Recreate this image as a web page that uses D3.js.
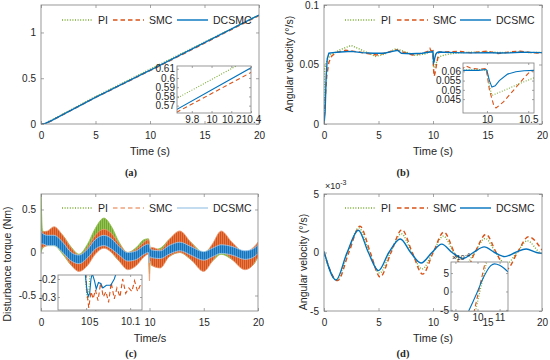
<!DOCTYPE html>
<html>
<head>
<meta charset="utf-8">
<script src="https://cdn.jsdelivr.net/npm/d3@7"></script>
<style>
body { margin: 0; background: #fff; }
svg text { font-family: "Liberation Sans", Arial, sans-serif; fill: #262626; }
svg text.caption { font-family: "Liberation Serif", "Times New Roman", serif; font-weight: bold; }
.frame { fill: none; stroke: #7f7f7f; stroke-width: 0.8; }
.tick line { stroke: #7f7f7f; stroke-width: 0.7; }
</style>
</head>
<body>
<svg class="main" width="550" height="360"></svg>
<script>
var series = ["PI", "SMC", "DCSMC"];
var colors = { PI: "#77AC30", SMC: "#D95319", DCSMC: "#0072BD" };
var dashes = { PI: "1,1.6", SMC: "4.5,3", DCSMC: null };

// (a) angle vs time
var tA_pi = [0, 0.3, 1, 5, 9.65, 10.25, 15, 20];
var vA_pi = [0, 0.003, 0.045, 0.3, 0.578, 0.613, 0.895, 1.19];
var tA_smc = [0, 0.3, 1, 5, 9.65, 10.4, 15, 20];
var vA_smc = [0, 0, 0.038, 0.29, 0.563, 0.606, 0.883, 1.185];
var tA_dc = [0, 0.3, 1, 5, 9.65, 10.4, 15, 20];
var vA_dc = [0, 0, 0.04, 0.29, 0.566, 0.611, 0.89, 1.19];

// (b) angular velocity
var tB_pi = [0, 0.05, 0.15, 0.3, 0.6, 1, 1.5, 2.5, 3.5, 4.7, 5.5, 6.6, 7.5, 8.4, 9.3, 9.71, 9.9, 10.0, 10.03, 10.06, 10.25, 10.4, 10.57, 11, 11.5, 12.5, 13.5, 15, 16.5, 18, 19, 20];
var vB_pi = [0, 0.046, 0.05, 0.054, 0.058, 0.06, 0.0625, 0.066, 0.062, 0.0568, 0.0585, 0.0632, 0.0605, 0.0575, 0.059, 0.0607, 0.061, 0.0605, 0.052, 0.047, 0.0505, 0.0535, 0.0565, 0.0578, 0.0588, 0.06, 0.0603, 0.0605, 0.06, 0.0605, 0.06, 0.0602];
var tB_smc = [0, 0.1, 0.25, 0.45, 0.7, 1.1, 2, 3.2, 4.8, 5.8, 6.6, 7.2, 8.1, 9.0, 9.71, 9.74, 9.8, 9.9, 9.99, 10.03, 10.08, 10.11, 10.2, 10.34, 10.45, 10.52, 10.57, 10.8, 11.5, 12.5, 13.5, 15, 16, 17, 18, 19, 20];
var vB_smc = [0, 0.02, 0.04, 0.052, 0.057, 0.06, 0.062, 0.0605, 0.058, 0.06, 0.0625, 0.0605, 0.058, 0.0595, 0.0615, 0.063, 0.0618, 0.0612, 0.0615, 0.05, 0.042, 0.0402, 0.0435, 0.0507, 0.0565, 0.0598, 0.0605, 0.0605, 0.0608, 0.061, 0.0598, 0.0612, 0.0592, 0.0605, 0.0612, 0.06, 0.0594];
var tB_dc = [0, 0.1, 0.2, 0.3, 0.45, 0.8, 1.5, 2.5, 3.5, 4.5, 5.5, 6.3, 6.75, 7.1, 8, 9, 9.71, 9.9, 9.99, 10.0, 10.03, 10.06, 10.1, 10.15, 10.25, 10.35, 10.45, 10.57, 11, 12, 13, 14, 15, 16, 17, 18, 19, 20];
var vB_dc = [0, 0.01, 0.04, 0.055, 0.0595, 0.06, 0.0605, 0.061, 0.06, 0.0595, 0.0595, 0.061, 0.062, 0.0595, 0.059, 0.0595, 0.0605, 0.0605, 0.061, 0.0605, 0.055, 0.0515, 0.0522, 0.055, 0.0585, 0.0598, 0.0603, 0.0605, 0.0603, 0.06, 0.0598, 0.0598, 0.06, 0.0597, 0.0598, 0.0603, 0.0602, 0.06];

// (c) disturbance torque, noise band edges
var tC = [0, 0.15, 0.6, 1.2, 2, 2.8, 3.5, 4.3, 5, 5.8, 6.5, 7.2, 8, 8.8, 9.5, 9.9, 10, 10.05, 10.2, 11, 11.8, 12.8, 13.8, 15, 15.8, 16.6, 17.6, 18.8, 19.5, 20];
var cPI_lo = [0.0, 0.05, 0.08, 0.08, -0.02, -0.15, -0.2, -0.1, 0.0, 0.08, 0.0, -0.1, -0.18, -0.12, -0.02, 0.0, -0.25, -0.1, -0.15, -0.15, -0.05, 0.0, -0.08, -0.18, -0.1, -0.02, -0.08, -0.18, -0.15, -0.05];
var cPI_hi = [0.68, 0.25, 0.24, 0.27, 0.2, 0.06, -0.02, 0.1, 0.28, 0.4, 0.3, 0.12, 0.0, 0.06, 0.15, 0.16, 0.1, 0.05, 0.03, 0.05, 0.15, 0.22, 0.12, 0.0, 0.08, 0.15, 0.1, 0.0, 0.02, 0.1];
var cSMC_lo = [0.05, 0.06, 0.08, 0.1, 0.0, -0.15, -0.22, -0.15, -0.02, 0.05, 0.0, -0.1, -0.2, -0.15, -0.05, -0.02, -0.33, -0.1, -0.15, -0.18, -0.05, 0.0, -0.08, -0.22, -0.1, 0.02, -0.08, -0.2, -0.15, -0.05];
var cSMC_hi = [0.22, 0.24, 0.25, 0.3, 0.2, 0.05, -0.03, 0.06, 0.2, 0.27, 0.22, 0.1, 0.0, 0.04, 0.12, 0.15, 0.1, 0.05, 0.06, 0.03, 0.15, 0.25, 0.12, -0.02, 0.1, 0.25, 0.12, 0.0, 0.05, 0.12];
var cDC_lo = [0.1, 0.1, 0.08, 0.08, 0.0, -0.1, -0.13, -0.06, 0.04, 0.08, 0.04, -0.03, -0.1, -0.08, -0.02, 0.0, -0.12, -0.05, -0.06, -0.07, -0.02, 0.02, -0.03, -0.09, -0.05, -0.01, -0.03, -0.08, -0.06, -0.01];
var cDC_hi = [0.25, 0.22, 0.2, 0.2, 0.12, 0.0, -0.03, 0.04, 0.15, 0.2, 0.16, 0.07, 0.0, 0.02, 0.08, 0.1, 0.08, 0.05, 0.03, 0.02, 0.08, 0.12, 0.07, 0.01, 0.05, 0.09, 0.07, 0.02, 0.04, 0.09];
// (c) zoom around t = 10
var icPI_t = [9.998, 10.0, 10.002, 10.004, 10.006, 10.008, 10.009];
var icPI_v = [-0.17, -0.25, -0.3, -0.315, -0.27, -0.2, -0.17];
var icSMC_t = [9.999, 10.003, 10.006, 10.011, 10.016, 10.021, 10.027, 10.033, 10.039, 10.045, 10.051, 10.057, 10.064, 10.07, 10.077, 10.083, 10.09, 10.097, 10.104, 10.11, 10.117, 10.122, 10.127];
var icSMC_v = [-0.17, -0.3, -0.36, -0.27, -0.31, -0.26, -0.32, -0.22, -0.3, -0.27, -0.33, -0.22, -0.31, -0.25, -0.3, -0.2, -0.28, -0.25, -0.27, -0.21, -0.27, -0.24, -0.22];
var icDC_t = [9.998, 10.002, 10.005, 10.008, 10.011, 10.014, 10.019, 10.023, 10.028, 10.033, 10.038, 10.046, 10.056, 10.064, 10.068];
var icDC_v = [-0.17, -0.27, -0.295, -0.28, -0.2, -0.17, -0.21, -0.255, -0.22, -0.225, -0.25, -0.235, -0.235, -0.2, -0.17];

// (d) angular velocity, x1e-3
var tD_pi = [0, 1.15, 2.17, 3.2, 4.15, 5.1, 6.1, 7.1, 8.05, 9.0, 9.98, 10.95, 11.9, 12.85, 13.8, 14.8, 15.75, 16.7, 17.7, 18.65, 19.8, 20];
var vD_pi = [0, -2.35, 0, 2.1, 0, -1.75, 0, 1.6, 0, -1.4, 0, 1.4, 0, -1.2, 0, 1.2, 0, -1.0, 0, 1.0, 0, -0.1];
var tD_smc = [0, 1.25, 2.28, 3.3, 4.25, 5.15, 6.15, 7.15, 8.1, 9.05, 10.02, 11.0, 11.95, 12.9, 13.85, 14.85, 15.8, 16.75, 17.75, 18.75, 20];
var vD_smc = [0, -2.4, 0, 2.25, 0, -2.1, 0, 1.95, 0, -1.85, 0, 1.75, 0, -1.65, 0, 1.55, 0, -1.45, 0, 1.35, 0.2];
var tD_dc = [0, 1.1, 2.12, 3.15, 4.07, 5.0, 5.95, 7.0, 7.95, 8.9, 9.9, 10.8, 11.75, 12.75, 13.7, 14.7, 15.65, 16.6, 17.55, 18.55, 19.5, 20];
var vD_dc = [0.1, -2.35, 0, 1.9, 0, -1.55, 0, 1.15, 0, -0.9, 0, 0.72, 0, -0.5, 0, 0.48, 0, -0.35, 0, 0.3, 0, -0.08];
// (d) zoom, x1e-4
var idPI_t = [9.85, 10.11, 10.42];
var idPI_v = [-6.9, 0, 8.2];
var idSMC_t = [9.75, 10.05, 10.35];
var idSMC_v = [-8, 0, 8];
var idDC_t = [9.6, 9.8, 10, 10.2, 10.4, 10.6, 10.77, 11.0, 11.2, 11.38];
var idDC_v = [-5.3, -2.7, 0, 2.9, 5.3, 7.0, 7.5, 7.1, 6.3, 5.3];

var svg = d3.select("svg.main");
var defs = svg.append("defs");
var nclip = 0;

// vertical hatch so the noisy bands look like dense oscillation
function hatch(id, light, dark) {
    var pat = defs.append("pattern").attr("id", id)
        .attr("width", 2).attr("height", 4)
        .attr("patternUnits", "userSpaceOnUse");
    pat.append("rect").attr("width", 2).attr("height", 4).attr("fill", light);
    pat.append("rect").attr("width", 1).attr("height", 4).attr("fill", dark);
}
hatch("hPI", "#93c15a", "#72a82c");
hatch("hSMC", "#e57a48", "#d6521b");
hatch("hDC", "#4a97d6", "#1474bc");

function makeAxes(box, xdom, ydom, inset) {
    var p = { box: box, inset: inset };
    p.x = d3.scaleLinear().domain(xdom).range([box.l, box.r]);
    p.y = d3.scaleLinear().domain(ydom).range([box.b, box.t]);
    var id = "clip" + (nclip++);
    svg.append("clipPath").attr("id", id).append("rect")
        .attr("x", box.l).attr("y", box.t)
        .attr("width", box.r - box.l).attr("height", box.b - box.t);
    if (inset) {
        svg.append("rect").attr("x", box.l).attr("y", box.t)
            .attr("width", box.r - box.l).attr("height", box.b - box.t)
            .attr("fill", "#fff");
    }
    p.g = svg.append("g").attr("clip-path", "url(#" + id + ")");
    return p;
}

function drawLine(p, ts, vs, name, curve) {
    var line = d3.line()
        .x(function (d) { return p.x(d[0]); })
        .y(function (d) { return p.y(d[1]); })
        .curve(curve || d3.curveLinear);
    p.g.append("path")
        .attr("d", line(d3.zip(ts, vs)))
        .attr("fill", "none")
        .attr("stroke", colors[name])
        .attr("stroke-width", p.inset ? 1.1 : 1.4)
        .attr("stroke-dasharray", dashes[name]);
}

function drawBand(p, ts, lo, hi, fill, edge) {
    var area = d3.area()
        .x(function (d) { return p.x(d[0]); })
        .y0(function (d) { return p.y(d[1]); })
        .y1(function (d) { return p.y(d[2]); })
        .curve(d3.curveMonotoneX);
    p.g.append("path")
        .attr("d", area(d3.zip(ts, lo, hi)))
        .attr("fill", fill)
        .attr("stroke", edge)
        .attr("stroke-width", 0.8);
}

function drawFrame(p, xticks, yticks, xpad) {
    var b = p.box;
    var fs = p.inset ? 6.8 : 10.5;
    var tl = p.inset ? 2 : 3;
    var fmt = function (d) { return String(d); };
    var axes = [
        [d3.axisBottom(p.x).tickValues(xticks).tickFormat(fmt).tickPadding(xpad), 0, b.b],
        [d3.axisLeft(p.y).tickValues(yticks).tickFormat(fmt).tickPadding(p.inset ? 2 : 5), b.l, 0],
        [d3.axisTop(p.x).tickValues(xticks).tickFormat(""), 0, b.t],
        [d3.axisRight(p.y).tickValues(yticks).tickFormat(""), b.r, 0]
    ];
    axes.forEach(function (a) {
        var g = svg.append("g")
            .attr("transform", "translate(" + a[1] + "," + a[2] + ")")
            .attr("font-size", fs)
            .call(a[0].tickSize(-tl));
        g.select(".domain").remove();
    });
    svg.append("rect").attr("class", "frame")
        .attr("x", b.l).attr("y", b.t)
        .attr("width", b.r - b.l).attr("height", b.b - b.t);
}

function legend(xs, y, light) {
    series.forEach(function (name, i) {
        svg.append("line")
            .attr("x1", xs[i]).attr("x2", xs[i] + 31)
            .attr("y1", y).attr("y2", y)
            .attr("stroke", light && light[name] ? light[name] : colors[name])
            .attr("stroke-width", 1.4)
            .attr("stroke-dasharray", dashes[name]);
        svg.append("text")
            .attr("x", xs[i] + 36).attr("y", y).attr("dy", "0.35em")
            .attr("font-size", 10.5)
            .text(name);
    });
}

function label(x, y, txt, size, rotate, cls) {
    var t = svg.append("text")
        .attr("text-anchor", "middle")
        .attr("font-size", size)
        .attr("dy", "0.35em")
        .text(txt);
    if (cls) t.attr("class", cls);
    if (rotate) t.attr("transform", "translate(" + x + "," + y + ") rotate(-90)");
    else t.attr("x", x).attr("y", y);
    return t;
}

// ---- (a)
var pa = makeAxes({ l: 41, r: 259, t: 5, b: 124 }, [0, 20], [0, 1.3], false);
drawLine(pa, tA_pi, vA_pi, "PI");
drawLine(pa, tA_smc, vA_smc, "SMC");
drawLine(pa, tA_dc, vA_dc, "DCSMC");
drawFrame(pa, [0, 5, 10, 15, 20], [0, 0.5, 1], 8);
legend([62, 113, 177], 20);
var ia = makeAxes({ l: 177, r: 251, t: 66, b: 113 }, [9.65, 10.4], [0.562, 0.613], true);
drawLine(ia, tA_pi, vA_pi, "PI");
drawLine(ia, tA_smc, vA_smc, "SMC");
drawLine(ia, tA_dc, vA_dc, "DCSMC");
drawFrame(ia, [9.8, 10, 10.2, 10.4], [0.57, 0.58, 0.59, 0.6, 0.61], 3);
label(150, 151, "Time (s)", 11);
label(131, 172, "(a)", 10.5, false, "caption");

// ---- (b)
var pb = makeAxes({ l: 324, r: 542, t: 5, b: 124 }, [0, 20], [0, 0.1], false);
drawLine(pb, tB_pi, vB_pi, "PI");
drawLine(pb, tB_smc, vB_smc, "SMC");
drawLine(pb, tB_dc, vB_dc, "DCSMC");
drawFrame(pb, [0, 5, 10, 15, 20], [0, 0.05, 0.1], 8);
legend([345, 397, 460], 20);
var ib = makeAxes({ l: 463, r: 534, t: 63, b: 113 }, [9.71, 10.57], [0.0375, 0.0645], true);
drawLine(ib, tB_pi, vB_pi, "PI");
drawLine(ib, tB_smc, vB_smc, "SMC");
drawLine(ib, tB_dc, vB_dc, "DCSMC");
drawFrame(ib, [10, 10.5], [0.045, 0.05, 0.055, 0.06], 3);
label(433, 151, "Time (s)", 11);
label(289, 64, "Angular velocity (°/s)", 10.5, true);
label(403, 172, "(b)", 10.5, false, "caption");

// ---- (c)
var pc = makeAxes({ l: 41, r: 258, t: 194, b: 311 }, [0, 20], [-0.68, 0.68], false);
drawBand(pc, tC, cPI_lo, cPI_hi, "url(#hPI)", "#8fbf4a");
drawBand(pc, tC, cSMC_lo, cSMC_hi, "url(#hSMC)", "#ee9a70");
drawBand(pc, tC, cDC_lo, cDC_hi, "url(#hDC)", "#a3cbec");
drawFrame(pc, [0, 5, 10, 15, 20], [-0.5, 0, 0.5], 8);
legend([62, 113, 177], 208, { SMC: "#f0a27c", DCSMC: "#a9cdea" });
var ic = makeAxes({ l: 58, r: 142, t: 275, b: 310 }, [9.936, 10.127], [-0.372, -0.178], true);
drawLine(ic, icPI_t, icPI_v, "PI");
drawLine(ic, icSMC_t, icSMC_v, "SMC");
drawLine(ic, icDC_t, icDC_v, "DCSMC");
drawFrame(ic, [10, 10.1], [-0.3, -0.2], 8);
label(150, 338, "Time/s", 11);
label(7, 264, "Disturbance torque (Nm)", 10.5, true);
label(131, 353, "(c)", 10.5, false, "caption");

// ---- (d)
var pd = makeAxes({ l: 324, r: 542, t: 194, b: 311 }, [0, 20], [-5, 5], false);
drawLine(pd, tD_pi, vD_pi, "PI", d3.curveMonotoneX);
drawLine(pd, tD_smc, vD_smc, "SMC", d3.curveMonotoneX);
drawLine(pd, tD_dc, vD_dc, "DCSMC", d3.curveMonotoneX);
drawFrame(pd, [0, 5, 10, 15, 20], [-5, 0, 5], 8);
legend([345, 397, 460], 208);
var mul = svg.append("text").attr("x", 325).attr("y", 189).attr("font-size", 9).text("×10");
mul.append("tspan").attr("dy", -4).attr("font-size", 7).text("-3");
var id = makeAxes({ l: 451, r: 508, t: 262, b: 311 }, [8.8, 11.38], [-5.3, 8], true);
drawLine(id, idPI_t, idPI_v, "PI");
drawLine(id, idSMC_t, idSMC_v, "SMC");
drawLine(id, idDC_t, idDC_v, "DCSMC", d3.curveMonotoneX);
drawFrame(id, [9, 10, 11], [-5, 0, 5], 3);
var mul2 = svg.append("text").attr("x", 452).attr("y", 260).attr("font-size", 7.5).text("×10");
mul2.append("tspan").attr("dy", -3).attr("font-size", 6).text("-4");
label(433, 338, "Time (s)", 11);
label(303, 262, "Angular velocity (°/s)", 10.5, true);
label(403, 353, "(d)", 10.5, false, "caption");
</script>
</body>
</html>
